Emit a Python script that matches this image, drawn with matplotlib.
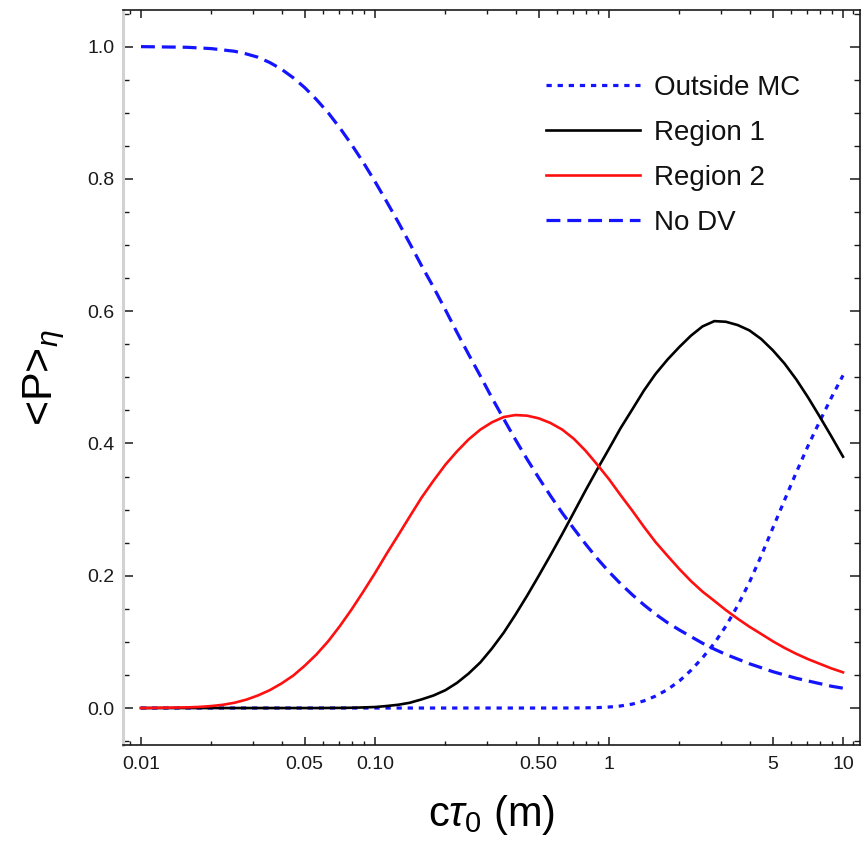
import matplotlib
matplotlib.use('Agg')
import matplotlib.pyplot as plt
from matplotlib.ticker import FixedLocator, FixedFormatter, NullFormatter

plt.rcParams['font.family'] = ['Liberation Sans', 'DejaVu Sans']
plt.rcParams['mathtext.fontset'] = 'custom'
plt.rcParams['mathtext.rm'] = 'Liberation Sans'
plt.rcParams['mathtext.it'] = 'Liberation Sans:italic'
plt.rcParams['lines.scale_dashes'] = False

# ---- data ----
ctau = [0.01, 0.0112, 0.0126, 0.0141, 0.0158, 0.0178, 0.02, 0.0224, 0.0251, 0.0282,
        0.0316, 0.0355, 0.0398, 0.0447, 0.0501, 0.0562, 0.0631, 0.0708, 0.0794, 0.0891,
        0.1, 0.112, 0.126, 0.141, 0.158, 0.178, 0.2, 0.224, 0.251, 0.282,
        0.316, 0.355, 0.398, 0.447, 0.501, 0.562, 0.631, 0.708, 0.794, 0.891,
        1.0, 1.12, 1.26, 1.41, 1.58, 1.78, 2.0, 2.24, 2.51, 2.82,
        3.16, 3.55, 3.98, 4.47, 5.01, 5.62, 6.31, 7.08, 7.94, 8.91,
        10.0]

outside_mc = [0, 0, 0, 0, 0, 0, 0, 0, 0, 0,
              0, 0, 0, 0, 0, 0, 0, 0, 0, 0,
              0, 0, 0, 0, 0, 0, 0, 0, 0, 0,
              0, 0, 0, 0, 0, 0, 0, 0.0001, 0.0003, 0.0006,
              0.0015, 0.0031, 0.006, 0.0108, 0.018, 0.028, 0.041, 0.057, 0.076, 0.098,
              0.124, 0.155, 0.190, 0.230, 0.272, 0.314, 0.356, 0.396, 0.433, 0.469,
              0.503]

region1 = [0, 0, 0, 0, 0, 0, 0, 0, 0, 0,
           0, 0, 0, 0, 0, 0, 0.0001, 0.0002, 0.0004, 0.0009,
           0.0015, 0.003, 0.005, 0.008, 0.013, 0.019, 0.027, 0.038, 0.052, 0.069,
           0.090, 0.114, 0.141, 0.170, 0.200, 0.231, 0.263, 0.296, 0.329, 0.361,
           0.392, 0.423, 0.452, 0.480, 0.505, 0.527, 0.546, 0.563, 0.577, 0.585,
           0.584, 0.579, 0.571, 0.558, 0.541, 0.521, 0.497, 0.470, 0.441, 0.411,
           0.380]

region2 = [0.0, 0.0002, 0.0005, 0.0007, 0.001, 0.0017, 0.003, 0.0049, 0.008, 0.0127,
           0.019, 0.027, 0.037, 0.049, 0.064, 0.081, 0.101, 0.124, 0.149, 0.176,
           0.204, 0.233, 0.262, 0.290, 0.318, 0.344, 0.368, 0.388, 0.406, 0.421,
           0.432, 0.440, 0.443, 0.442, 0.438, 0.431, 0.421, 0.407, 0.389, 0.368,
           0.346, 0.322, 0.298, 0.274, 0.251, 0.230, 0.210, 0.192, 0.176, 0.162,
           0.148, 0.135, 0.123, 0.112, 0.101, 0.091, 0.082, 0.074, 0.067, 0.060,
           0.054]

no_dv = [1.000, 0.9998, 0.9995, 0.9993, 0.999, 0.998, 0.997, 0.995, 0.993, 0.989,
         0.984, 0.976, 0.966, 0.953, 0.938, 0.920, 0.900, 0.877, 0.852, 0.825,
         0.796, 0.766, 0.734, 0.702, 0.669, 0.636, 0.602, 0.568, 0.535, 0.502,
         0.469, 0.437, 0.406, 0.376, 0.348, 0.321, 0.295, 0.271, 0.248, 0.226,
         0.206, 0.188, 0.171, 0.156, 0.142, 0.129, 0.118, 0.108, 0.098, 0.089,
         0.081, 0.074, 0.067, 0.061, 0.055, 0.050, 0.045, 0.041, 0.037, 0.033,
         0.030]

series_labels = ['Outside MC', 'Region 1', 'Region 2', 'No DV']

x_major = [0.01, 0.05, 0.10, 0.50, 1, 5, 10]
x_major_labels = ['0.01', '0.05', '0.10', '0.50', '1', '5', '10']
x_minor = [0.009, 0.02, 0.03, 0.04, 0.06, 0.07, 0.08, 0.09,
           0.2, 0.3, 0.4, 0.6, 0.7, 0.8, 0.9, 2, 3, 4, 6, 7, 8, 9, 11]
y_major = [0.0, 0.2, 0.4, 0.6, 0.8, 1.0]
y_major_labels = ['0.0', '0.2', '0.4', '0.6', '0.8', '1.0']
y_minor = [-0.05, 0.05, 0.1, 0.15, 0.25, 0.3, 0.35, 0.45, 0.5, 0.55,
           0.65, 0.7, 0.75, 0.85, 0.9, 0.95, 1.05]

# ---- figure ----
W, H = 868, 843
fig = plt.figure(figsize=(W / 100, H / 100), dpi=100)
L, R, T, B = 123, 860, 10, 745
ax = fig.add_axes([L / W, 1 - B / H, (R - L) / W, (B - T) / H])
ax.set_xscale('log')
ax.set_xlim(10 ** (-2 - 18 / 234), 10 ** (-2 + 719 / 234))
ax.set_ylim(-0.0559, 1.0554)

blue = '#1414ff'
common = dict(solid_joinstyle='round', dash_joinstyle='round')
ax.plot(ctau, outside_mc, color=blue, lw=2.3, linestyle=(0, (3.8, 4.2)),
        label=series_labels[0], **common)
ax.plot(ctau, region1, color='black', lw=1.9, label=series_labels[1], **common)
ax.plot(ctau, region2, color='#ff1010', lw=1.9, label=series_labels[2], **common)
ax.plot(ctau, no_dv, color=blue, lw=2.3, linestyle=(0, (10, 5)),
        label=series_labels[3], **common)

ax.xaxis.set_major_locator(FixedLocator(x_major))
ax.xaxis.set_major_formatter(FixedFormatter(x_major_labels))
ax.xaxis.set_minor_locator(FixedLocator(x_minor))
ax.xaxis.set_minor_formatter(NullFormatter())
ax.yaxis.set_major_locator(FixedLocator(y_major))
ax.yaxis.set_major_formatter(FixedFormatter(y_major_labels))
ax.yaxis.set_minor_locator(FixedLocator(y_minor))

tc = '#1a1a1a'
ax.tick_params(axis='both', which='both', direction='in', top=True, right=True,
               colors=tc, labelcolor=tc, labelsize=14)
ax.tick_params(axis='x', which='major', length=6, width=1.1, pad=8)
ax.tick_params(axis='x', which='minor', length=3.2, width=1.0)
ax.tick_params(axis='y', which='major', length=7.5, width=1.1, pad=6)
ax.tick_params(axis='y', which='minor', length=4, width=1.0)

for side in ['top', 'right', 'bottom']:
    ax.spines[side].set_color('#1a1a1a')
    ax.spines[side].set_linewidth(1.2)
ax.spines['left'].set_color('#d2d2d2')
ax.spines['left'].set_linewidth(2.2)

ax.set_xlabel(r'c$\tau_0$ (m)', fontsize=30, labelpad=14)
ax.set_ylabel(r'<P>$_\eta$', fontsize=31, labelpad=15)

leg = ax.legend(loc='upper left', bbox_to_anchor=(546 / W, 1 - 75 / H),
                bbox_transform=fig.transFigure, frameon=False, fontsize=20,
                handlelength=3.4, handletextpad=0.5, labelspacing=0.68,
                borderpad=0, borderaxespad=0)
for t in leg.get_texts():
    t.set_color('#111111')

fig.savefig('out.png', dpi=100)
